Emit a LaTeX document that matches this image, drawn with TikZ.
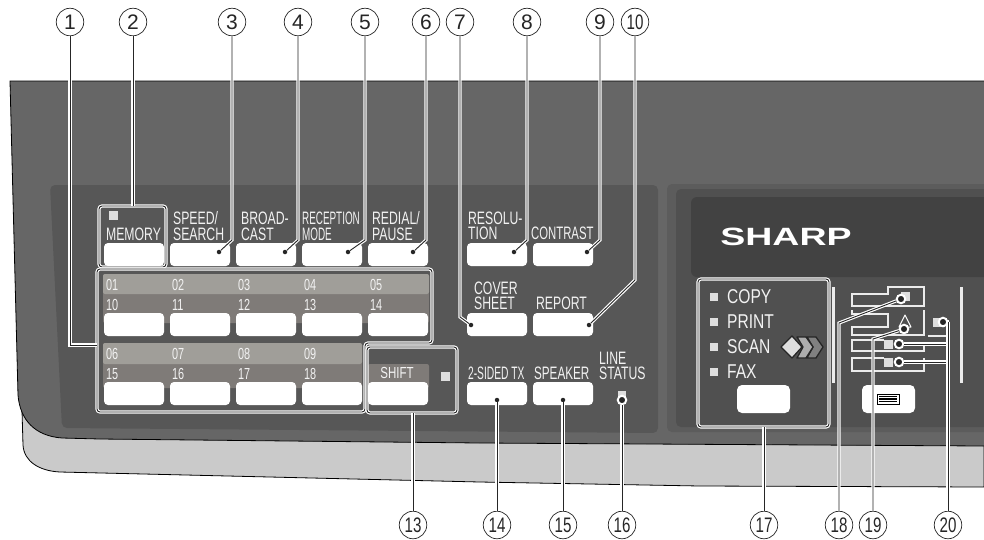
\documentclass[tikz,border=0pt]{standalone}
\usepackage{fontspec}
\setmainfont{Liberation Sans}
\usetikzlibrary{positioning}
\definecolor{panelgray}{HTML}{666666}
\definecolor{innergray}{HTML}{575757}
\definecolor{rightouter}{HTML}{5C5C5C}
\definecolor{rightinner}{HTML}{505050}
\definecolor{displaygray}{HTML}{424242}
\definecolor{bandgray}{HTML}{CACACA}
\definecolor{striplight}{HTML}{A09E99}
\definecolor{stripdark}{HTML}{7F7B78}
\definecolor{ledgray}{HTML}{DEDEDE}
\definecolor{labelwhite}{HTML}{F2F2F2}
\newcommand{\slim}[1]{\scalebox{.72}[1]{#1}}
\tikzset{
  keybtn/.style={fill=white, rounded corners=4pt, minimum width=60pt, minimum height=23pt, inner sep=0pt},
  modebtn/.style={fill=white, rounded corners=5pt, minimum width=53pt, minimum height=28pt, inner sep=0pt},
  callout/.style={circle, draw=black!85, line width=.7pt, fill=white, minimum size=27.5pt, inner sep=0pt, text=black!85, font=\fontsize{21}{21}\selectfont},
  leader/.style={draw=black!85, line width=.9pt, preaction={draw=white, line width=3.2pt}},
  groupframe/.style={draw=black!85, line width=.9pt, rounded corners=3pt, inner sep=0pt, preaction={draw=white, line width=3.2pt}},
  dotmark/.style={circle, fill=black!85, minimum size=4.5pt, inner sep=0pt},
  ringdot/.style={circle, fill=black!85, draw=white, line width=2pt, minimum size=8.5pt, inner sep=0pt},
  led/.style={fill=ledgray, minimum size=9pt, inner sep=0pt},
  panellabel/.style={anchor=west, inner sep=0pt, text=labelwhite, xscale=#1, font=\fontsize{18}{18}\selectfont},
  panellabel/.default=.68,
  keylabel/.style={anchor=west, inner sep=0pt, text=labelwhite, xscale=#1, font=\fontsize{16}{16}\selectfont},
  keylabel/.default=.68,
  modelabel/.style={anchor=west, inner sep=0pt, text=labelwhite, xscale=.78, font=\fontsize{20}{20}\selectfont},
  trayline/.style={draw=white!92!black, line width=1.4pt},
}
\begin{document}
\begin{tikzpicture}[x=1pt, y=-1pt]
	\useasboundingbox (0,0) rectangle (984,539);
	% housing
	\fill[bandgray, draw=black, line width=.8pt] (22,410) -- (23,445) .. controls (24,462) and (40,471) .. (60,472) -- (480,482) -- (700,486) -- (984,487) -- (984,440) -- cycle;
	\fill[panelgray] (10,81) -- (984,81) -- (984,446) -- (480,443) -- (100,439) -- (62,438) .. controls (35,436) and (20,420) .. (18,395) -- cycle;
	\draw[black, line width=.8pt] (984,446) -- (480,443) -- (100,439) -- (62,438) .. controls (35,436) and (20,420) .. (18,395) -- (10,81) -- (984,81);
	\fill[innergray, rounded corners=5pt] (50,185) -- (658,185) -- (658,433) -- (62,428) -- cycle;
	\fill[rightouter, rounded corners=5pt] (984,184) -- (667,184) -- (667,432) -- (984,432);
	\fill[rightinner, rounded corners=5pt] (984,189) -- (676,189) -- (676,427) -- (984,427);
	\fill[displaygray, rounded corners=6pt] (984,197) -- (691,197) -- (691,277) -- (984,277);
	% number strips
	\fill[stripdark, rounded corners=2pt] (103,274) rectangle (429,323);
	\fill[striplight, rounded corners=2pt] (103,274) rectangle (429,294);
	\fill[stripdark, rounded corners=2pt] (103,343) rectangle (362,388);
	\fill[striplight, rounded corners=2pt] (103,343) rectangle (362,364);
	\fill[stripdark, rounded corners=2pt] (368,364) rectangle (429,388);
	% keys
	\node[keybtn] (memory) at (134,254.5) {};
	\node[keybtn] (speed) at (200,254.5) {};
	\node[keybtn] (broadcast) at (266,254.5) {};
	\node[keybtn] (reception) at (332,254.5) {};
	\node[keybtn] (redial) at (398,254.5) {};
	\node[keybtn] (resolution) at (497,254.5) {};
	\node[keybtn] (contrast) at (563,254.5) {};
	\node[keybtn] (cover) at (497,324.5) {};
	\node[keybtn] (report) at (563,324.5) {};
	\node[keybtn] (shift) at (398,393.5) {};
	\node[keybtn] (twosided) at (497,393.5) {};
	\node[keybtn] (speaker) at (563,393.5) {};
	\foreach \col/\x in {10/134, 11/200, 12/266, 13/332, 14/398} {
		\node[keybtn] (key\col) at (\x,324.5) {};
	}
	\foreach \col/\x in {15/134, 16/200, 17/266, 18/332} {
		\node[keybtn] (key\col) at (\x,393.5) {};
	}
	\node[modebtn] (modekey) at (763.5,399) {};
	\node[modebtn] (menukey) at (888.5,399) {};
	\draw[black, line width=.9pt, fill=white] (877,394) rectangle (899,404);
	\draw[black, line width=1.1pt] (879,396.5) -- (897,396.5) (879,399) -- (897,399) (879,401.5) -- (897,401.5);
	% key labels
	\foreach \txt/\x/\y in {01/106/285, 02/172/285, 03/238/285, 04/304/285, 05/370/285, 10/106/305, 11/172/305, 12/238/305, 13/304/305, 14/370/305, 06/106/354, 07/172/354, 08/238/354, 09/304/354, 15/106/374, 16/172/374, 17/238/374, 18/304/374} {
		\node[keylabel] (num\txt) at (\x,\y) {\txt};
	}
	\node[panellabel] (lblmemory) at (106,234) {MEMORY};
	\node[panellabel] (lblspeed) at (173,218) {SPEED/};
	\node[panellabel] (lblsearch) at (173,234) {SEARCH};
	\node[panellabel] (lblbroad) at (241,218) {BROAD-};
	\node[panellabel] (lblcast) at (241,234) {CAST};
	\node[panellabel=.55] (lblrecep) at (302,218) {RECEPTION};
	\node[panellabel=.55] (lblmode) at (302,234) {MODE};
	\node[panellabel] (lblredial) at (372,218) {REDIAL/};
	\node[panellabel] (lblpause) at (372,234) {PAUSE};
	\node[panellabel] (lblresol) at (468,218) {RESOLU-};
	\node[panellabel] (lbltion) at (468,233) {TION};
	\node[panellabel=.63] (lblcontrast) at (531,233) {CONTRAST};
	\node[panellabel] (lblcover) at (474,288) {COVER};
	\node[panellabel] (lblsheet) at (474,303) {SHEET};
	\node[panellabel] (lblreport) at (536,303) {REPORT};
	\node[panellabel=.57] (lbltwosided) at (468,373) {2-SIDED TX};
	\node[panellabel=.65] (lblspeaker) at (534,373) {SPEAKER};
	\node[panellabel] (lblline) at (599,358) {LINE};
	\node[panellabel] (lblstatus) at (599,373) {STATUS};
	\node[keylabel=.72, anchor=center] (lblshift) at (397,373) {SHIFT};
	\node[modelabel] (lblcopy) at (727,297) {COPY};
	\node[modelabel] (lblprint) at (727,322) {PRINT};
	\node[modelabel] (lblscan) at (727,347) {SCAN};
	\node[modelabel] (lblfax) at (727,372) {FAX};
	\node[inner sep=0pt, text=white, xscale=1.5, font=\fontsize{25}{25}\selectfont\bfseries] (sharp) at (786,237) {SHARP};
	% leds
	\node[led] (ledmemory) at (113.5,215.5) {};
	\node[led] (ledshift) at (445,376) {};
	\node[led, minimum width=8pt, minimum height=12pt] (ledline) at (622,397) {};
	\node[led, minimum size=8pt] (ledcopy) at (714,297) {};
	\node[led, minimum size=8pt] (ledprint) at (714,322) {};
	\node[led, minimum size=8pt] (ledscan) at (714,347) {};
	\node[led, minimum size=8pt] (ledfax) at (714,372) {};
	\node[led] (ledtray) at (905,296) {};
	\node[led] (ledone) at (888,344) {};
	\node[led] (ledtwo) at (888,362) {};
	\node[led, minimum width=12pt, minimum height=9pt] (ledright) at (939,322.5) {};
	% mode chevrons
	\draw[black!85, fill=black!50, line width=1.3pt, line join=round] (807,337) -- (816,337) -- (823,347) -- (816,358) -- (807,358) -- (813,347) -- cycle;
	\draw[black!85, fill=black!32, line width=1.3pt, line join=round] (797,337) -- (806,337) -- (813,347) -- (806,358) -- (797,358) -- (803,347) -- cycle;
	\draw[black!85, fill=ledgray, line width=1.3pt, line join=round] (792,336) -- (802,347) -- (792,358) -- (781,347) -- cycle;
	% paper path
	\fill[white!92!black] (832,287) rectangle (834.5,383);
	\fill[white!92!black] (960,287) rectangle (962.5,383);
	\draw[trayline] (852,294) -- (888,294) -- (888,287) -- (924,287) -- (924,306) -- (852,306) -- cycle;
	\draw[trayline] (852,310) -- (852,314) -- (888,314) -- (888,327) -- (852,327) -- (852,335) -- (924,335) -- (924,310);
	\draw[trayline] (884,340) -- (852,340) -- (852,351) -- (924,351) -- (924,346);
	\draw[trayline] (884,358) -- (852,358) -- (852,371) -- (924,371) -- (924,358);
	\draw[trayline] (928,336) -- (948,336);
	\draw[white, line width=1pt, line join=round] (905,315) -- (911,327) -- (899,327) -- cycle;
	% group frames
	\node[groupframe, minimum width=67pt, minimum height=61pt] (frmemory) at (132.5,236.5) {};
	\draw[groupframe] (97,269) -- (432,269) -- (432,343) -- (365,343) -- (365,412) -- (97,412) -- cycle;
	\coordinate (frkeys) at (97,345);
	\node[groupframe, minimum width=90pt, minimum height=66pt] (frshift) at (412,380) {};
	\node[groupframe, minimum width=131pt, minimum height=148pt] (frmode) at (763.5,353) {};
	% callouts
	\foreach \num/\x in {1/70, 2/133, 3/232, 4/298, 5/365, 6/426, 7/460, 8/527, 9/600} {
		\node[callout] (n\num) at (\x,22) {\num};
	}
	\node[callout] (n10) at (635,22) {\slim{10}};
	\foreach \num/\x in {13/413, 14/497, 15/563, 16/622, 17/764, 18/839, 19/873, 20/948} {
		\node[callout] (n\num) at (\x,525) {\slim{\num}};
	}
	% end marks
	\node[dotmark] (d3) at (219,252) {};
	\node[dotmark] (d4) at (285,252) {};
	\node[dotmark] (d5) at (348,252) {};
	\node[dotmark] (d6) at (413,252) {};
	\node[dotmark] (d7) at (471,325) {};
	\node[dotmark] (d8) at (514,252) {};
	\node[dotmark] (d9) at (587,252) {};
	\node[dotmark] (d10) at (589,325) {};
	\node[dotmark] (d14) at (497,400) {};
	\node[dotmark] (d15) at (563,400) {};
	\node[ringdot] (d16) at (622,400) {};
	\node[ringdot] (d18) at (901,299) {};
	\node[ringdot] (d19) at (904,329) {};
	\node[ringdot] (d20) at (943,322) {};
	\node[ringdot] (d20a) at (899,344) {};
	\node[ringdot] (d20b) at (899,362) {};
	\coordinate (b3) at (232,240);
	\coordinate (b4) at (298,240);
	\coordinate (b5) at (365,240);
	\coordinate (b6) at (426,240);
	\coordinate (b7) at (460,317);
	\coordinate (b8) at (527,240);
	\coordinate (b9) at (600,240);
	\coordinate (b10) at (635,280);
	\coordinate (b18) at (839,323);
	\coordinate (b19) at (873,339);
	\coordinate (b20) at (948,322);
	\coordinate (j20a) at (948,344);
	\coordinate (j20b) at (948,362);
	% connectors
	\draw[leader] (n1) |- (frkeys);
	\draw[leader] (n2) -- (n2 |- frmemory.north);
	\draw[leader] (n3) -- (b3) -- (d3);
	\draw[leader] (n4) -- (b4) -- (d4);
	\draw[leader] (n5) -- (b5) -- (d5);
	\draw[leader] (n6) -- (b6) -- (d6);
	\draw[leader] (n7) -- (b7) -- (d7);
	\draw[leader] (n8) -- (b8) -- (d8);
	\draw[leader] (n9) -- (b9) -- (d9);
	\draw[leader] (n10) -- (b10) -- (d10);
	\draw[leader] (n13) -- (n13 |- frshift.south);
	\draw[leader] (n14) -- (d14);
	\draw[leader] (n15) -- (d15);
	\draw[leader] (n16) -- (d16);
	\draw[leader] (n17) -- (n17 |- frmode.south);
	\draw[leader] (n18) -- (b18) -- (d18);
	\draw[leader] (n19) -- (b19) -- (d19);
	\draw[leader] (j20a) -- (d20a);
	\draw[leader] (j20b) -- (d20b);
	\draw[leader] (n20) -- (b20) -- (d20);
\end{tikzpicture}
\end{document}
